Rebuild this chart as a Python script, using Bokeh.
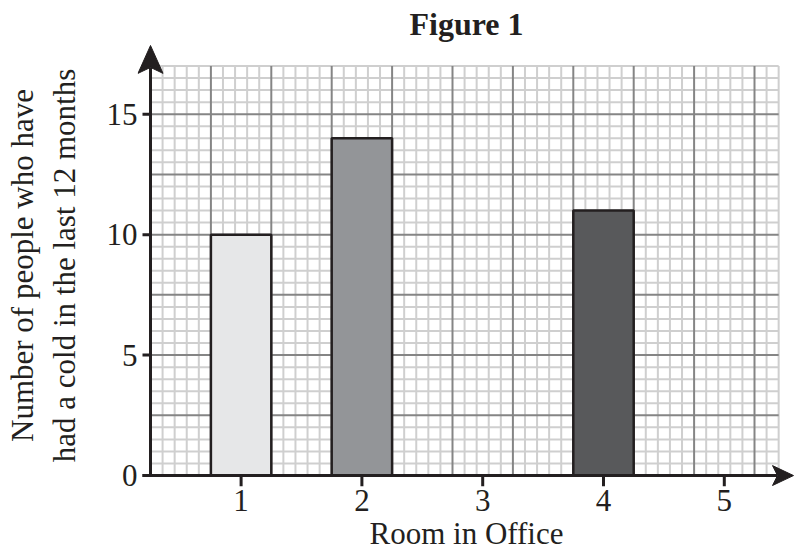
import numpy as np
from bokeh.plotting import figure
from bokeh.models import Range1d, FixedTicker, ColumnDataSource
from bokeh.embed import file_html
from bokeh.resources import INLINE

# ---- data ----
rooms = [1, 2, 4]
counts = [10, 14, 11]
bar_colors = ["#e6e7e8", "#939598", "#58595b"]
x_ticks = [1, 2, 3, 4, 5]
y_ticks = [0, 5, 10, 15]
title_text = "Figure 1"
x_label = "Room in Office"
y_label = "Number of people who have\nhad a cold in the last 12 months"

# ---- layout constants (pixel sizes converted to data units) ----
PX_X = 120.8           # pixels per x unit
PX_Y = 24.2            # pixels per y unit
X0 = 0.25              # x where the y axis sits
X_GRID_END = 5.45
Y_GRID_END = 17.0
X_START = X0 - 13 / PX_X
X_END = X0 + 645 / PX_X
Y_START = -11 / PX_Y
Y_END = 433 / PX_Y
Y_TIP = Y_END - 1 / PX_Y
X_TIP = X_END - 2 / PX_X
INK = "#231f20"
FONT = "Liberation Serif"
FS = "31px"

p = figure(width=795, height=553,
           x_range=Range1d(X_START, X_END), y_range=Range1d(Y_START, Y_END),
           output_backend="svg", toolbar_location=None,
           title=title_text,
           min_border_left=137, min_border_right=0,
           min_border_top=42, min_border_bottom=67)
p.outline_line_color = None
p.background_fill_color = "white"
p.border_fill_color = "white"
p.xgrid.visible = False
p.ygrid.visible = False

# ---- graph-paper grid ----
kx = np.arange(1, 53)
gx = X0 + 0.1 * kx
ky = np.arange(1, 35)
gy = 0.5 * ky
minor_x = gx[kx % 5 != 0]
major_x = gx[kx % 5 == 0]
minor_y = gy[ky % 5 != 0]
major_y = gy[ky % 5 == 0]

p.segment(x0=minor_x, y0=0, x1=minor_x, y1=Y_GRID_END, line_color="#cfcfcf", line_width=2)
p.segment(x0=X0, y0=minor_y, x1=X_GRID_END, y1=minor_y, line_color="#cfcfcf", line_width=2)
p.segment(x0=major_x, y0=0, x1=major_x, y1=Y_GRID_END, line_color="#858585", line_width=2)
p.segment(x0=X0, y0=major_y, x1=X_GRID_END, y1=major_y, line_color="#858585", line_width=2)

# ---- bars ----
src = ColumnDataSource(dict(room=rooms, count=counts, color=bar_colors))
p.vbar(x="room", top="count", width=0.5, bottom=0, source=src,
       fill_color="color", line_color=INK, line_width=2.5)

# ---- drawn axes with arrow heads ----
yh_len, yh_notch, yh_half = 28 / PX_Y, 22 / PX_Y, 12.5 / PX_X
xh_len, xh_notch, xh_half = 21 / PX_X, 16 / PX_X, 10 / PX_Y
p.segment(x0=[X0, X0 - 8 / PX_X], y0=[0, 0],
          x1=[X0, X_TIP - xh_notch], y1=[Y_TIP - yh_notch, 0],
          line_color=INK, line_width=3)
# tick marks
p.segment(x0=X0 - 8 / PX_X, y0=y_ticks, x1=X0, y1=y_ticks, line_color=INK, line_width=3)
p.segment(x0=x_ticks, y0=0, x1=x_ticks, y1=Y_START, line_color=INK, line_width=3)
# arrow heads
p.patches(xs=[[X0, X0 - yh_half, X0, X0 + yh_half],
              [X_TIP, X_TIP - xh_len, X_TIP - xh_notch, X_TIP - xh_len]],
          ys=[[Y_TIP, Y_TIP - yh_len, Y_TIP - yh_notch, Y_TIP - yh_len],
              [0, xh_half, 0, -xh_half]],
          fill_color=INK, line_color=INK, line_width=1)

# ---- Bokeh axes: tick labels and axis titles only ----
for ax in (p.xaxis[0], p.yaxis[0]):
    ax.axis_line_color = None
    ax.major_tick_line_color = None
    ax.minor_tick_line_color = None
    ax.major_tick_in = 0
    ax.major_tick_out = 0
    ax.major_label_text_font = FONT
    ax.major_label_text_font_size = FS
    ax.major_label_text_color = INK
    ax.axis_label_text_font = FONT
    ax.axis_label_text_font_size = FS
    ax.axis_label_text_font_style = "normal"
    ax.axis_label_text_color = INK

p.xaxis.ticker = FixedTicker(ticks=x_ticks)
p.yaxis.ticker = FixedTicker(ticks=y_ticks)
p.xaxis.major_label_standoff = 3
p.yaxis.major_label_standoff = 0
p.xaxis.axis_label = x_label
p.yaxis.axis_label = y_label
p.xaxis.axis_label_standoff = 2
p.yaxis.axis_label_standoff = 22

# ---- title ----
p.title.text_font = FONT
p.title.text_font_size = "32px"
p.title.text_font_style = "bold"
p.title.text_color = INK
p.title.align = "center"
p.title.standoff = 6

open("out.html", "w").write(file_html(p, INLINE))
